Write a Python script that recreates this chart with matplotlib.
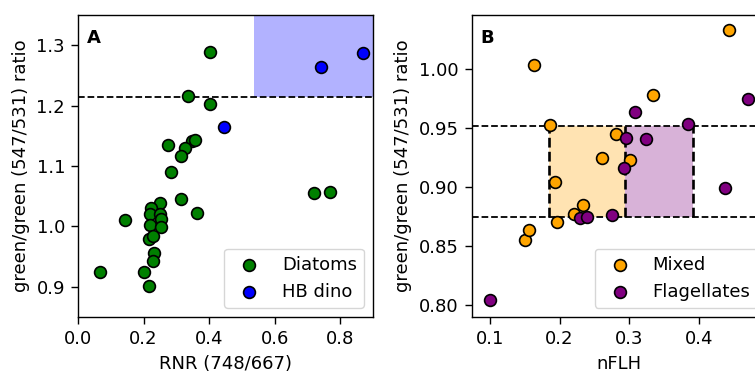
import matplotlib
matplotlib.use("Agg")
import matplotlib.pyplot as plt
from matplotlib.patches import Rectangle

plt.rcParams['font.family'] = ['DejaVu Sans']
plt.rcParams['font.size'] = 13
plt.rcParams['xtick.major.size'] = 4.8
plt.rcParams['ytick.major.size'] = 4.8
plt.rcParams['xtick.major.width'] = 1.0
plt.rcParams['ytick.major.width'] = 1.0
plt.rcParams['xtick.major.pad'] = 4.5
plt.rcParams['ytick.major.pad'] = 4.5
plt.rcParams['axes.linewidth'] = 1.0
plt.rcParams['axes.labelpad'] = 5.0

# Panel A data
diatoms_x = [0.403, 0.337, 0.402, 0.276, 0.349, 0.357, 0.326, 0.313, 0.284,
             0.720, 0.768, 0.315, 0.249, 0.362, 0.144, 0.223, 0.219, 0.250,
             0.252, 0.221, 0.254, 0.217, 0.229, 0.231, 0.230, 0.068, 0.200,
             0.218]
diatoms_y = [1.288, 1.216, 1.203, 1.134, 1.142, 1.143, 1.129, 1.116, 1.090,
             1.055, 1.057, 1.045, 1.039, 1.022, 1.010, 1.030, 1.021, 1.020,
             1.012, 1.003, 0.999, 0.979, 0.984, 0.956, 0.942, 0.924, 0.925,
             0.901]
hbdino_x = [0.444, 0.742, 0.869]
hbdino_y = [1.164, 1.264, 1.287]
a_threshold = 1.2145
a_box_x = [0.537, 0.9]

# Panel B data
mixed_x = [0.163, 0.443, 0.3345, 0.186, 0.2810, 0.2614, 0.3008, 0.193,
           0.150, 0.156, 0.197, 0.2213, 0.2340]
mixed_y = [1.0035, 1.033, 0.978, 0.953, 0.9448, 0.9245, 0.9232, 0.9047,
           0.855, 0.8634, 0.8706, 0.8776, 0.8848]
flag_x = [0.308, 0.295, 0.3235, 0.384, 0.292, 0.470, 0.437, 0.100, 0.2295,
          0.2397, 0.2758]
flag_y = [0.9636, 0.9418, 0.941, 0.9534, 0.916, 0.9746, 0.899, 0.8048,
          0.8736, 0.875, 0.8765]
b_lo, b_hi = 0.875, 0.952
b_edges = [0.185, 0.294, 0.392]

fig = plt.figure(figsize=(7.55, 3.72), dpi=100)
axA = fig.add_axes([78/755, 55/372, 295/755, 302/372])
axB = fig.add_axes([471.7/755, 55/372, 295/755, 302/372])

ms = 72
# Panel A
axA.add_patch(Rectangle((a_box_x[0], a_threshold), a_box_x[1]-a_box_x[0], 1.35-a_threshold,
                        facecolor='blue', alpha=0.3, edgecolor='none', zorder=1))
axA.axhline(a_threshold, color='black', ls='--', lw=1.3, zorder=2)
axA.scatter(diatoms_x, diatoms_y, s=ms, c='green', edgecolors='black', linewidths=1.2,
            label='Diatoms', zorder=3)
axA.scatter(hbdino_x, hbdino_y, s=ms, c='blue', edgecolors='black', linewidths=1.2,
            label='HB dino', zorder=3)
axA.set_xlim(0, 0.9)
axA.set_ylim(0.85, 1.35)
axA.set_xticks([0.0, 0.2, 0.4, 0.6, 0.8])
axA.set_yticks([0.9, 1.0, 1.1, 1.2, 1.3])
axA.set_xlabel('RNR (748/667)')
axA.set_ylabel('green/green (547/531) ratio')
axA.text(0.03, 0.955, 'A', transform=axA.transAxes, fontweight='bold', va='top', ha='left')
axA.legend(loc='lower right')

# Panel B
axB.add_patch(Rectangle((b_edges[0], b_lo), b_edges[1]-b_edges[0], b_hi-b_lo,
                        facecolor='orange', alpha=0.3, edgecolor='none', zorder=1))
axB.add_patch(Rectangle((b_edges[1], b_lo), b_edges[2]-b_edges[1], b_hi-b_lo,
                        facecolor='purple', alpha=0.3, edgecolor='none', zorder=1))
axB.axhline(b_lo, color='black', ls='--', lw=1.3, zorder=2)
axB.axhline(b_hi, color='black', ls='--', lw=1.3, zorder=2)
axB.vlines(b_edges, b_lo, b_hi, colors='black', linestyles='--', lw=1.9, zorder=2)
axB.scatter(mixed_x, mixed_y, s=ms, c='orange', edgecolors='black', linewidths=1.2,
            label='Mixed', zorder=3)
axB.scatter(flag_x, flag_y, s=ms, c='purple', edgecolors='black', linewidths=1.2,
            label='Flagellates', zorder=3)
axB.set_xlim(0.074, 0.497)
axB.set_ylim(0.79, 1.046)
axB.set_xticks([0.1, 0.2, 0.3, 0.4])
axB.set_yticks([0.80, 0.85, 0.90, 0.95, 1.00])
axB.set_yticklabels(['0.80', '0.85', '0.90', '0.95', '1.00'])
axB.set_xlabel('nFLH')
axB.set_ylabel('green/green (547/531) ratio')
axB.text(0.03, 0.955, 'B', transform=axB.transAxes, fontweight='bold', va='top', ha='left')
axB.legend(loc='lower right')

fig.savefig('out.png', dpi=100)
